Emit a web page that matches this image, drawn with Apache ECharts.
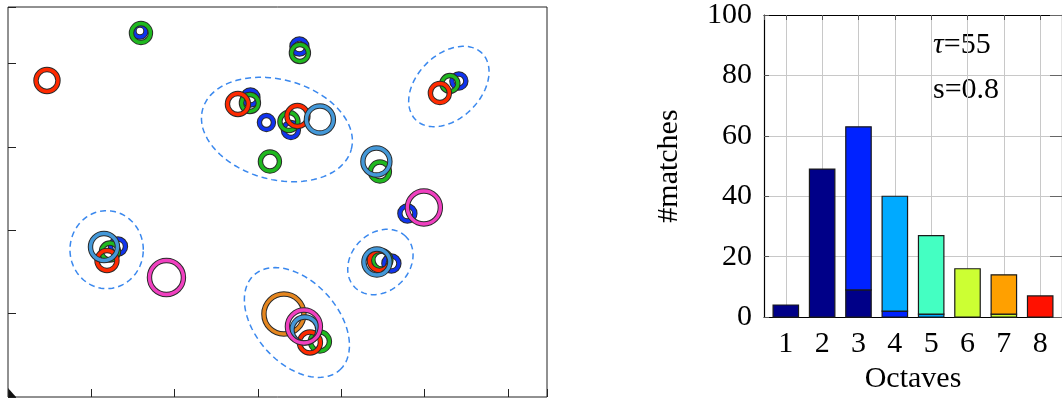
<!DOCTYPE html>
<html>
<head>
<meta charset="utf-8">
<style>
  html, body { margin: 0; padding: 0; background: #fff; }
  #chart { width: 1062px; height: 399px; }
</style>
<script src="https://cdn.jsdelivr.net/npm/echarts@6/dist/echarts.min.js"></script>
</head>
<body>
<div id="chart"></div>
<script>
// ---- keypoint rings: [x, y, radius] in image units ----
const blueRings = [
  [158.4, 439.2, 7.2], [349.8, 420.6, 9], [541.2, 379.2, 8.4],
  [291, 359.4, 9], [310.2, 329.4, 8.4], [339.6, 320.4, 9],
  [479.4, 220.2, 9], [460.2, 160.2, 9], [132, 180.6, 9]
];
const greenRings = [
  [159.6, 436.8, 11.4], [350.4, 412.8, 10.2], [530.4, 376.2, 9.6],
  [290.4, 352.8, 10.2], [337.2, 330.6, 10.8], [314.4, 282.6, 11.4],
  [446.4, 270.6, 11.4], [448.8, 164.4, 10.8], [122.4, 174.6, 10.2],
  [374.4, 66.6, 11.4]
];
const redRings = [
  [46.8, 379.8, 13.2], [518.4, 364.8, 11.4], [276, 351.6, 12.6],
  [347.4, 337.2, 12.6], [445.8, 163.8, 12], [118.8, 163.8, 12],
  [362.4, 65.4, 12.6]
];
const lightBlueRings = [
  [374.4, 333, 16.2], [442.2, 282.6, 16.2], [442.8, 162, 15.6],
  [115.2, 180, 16.2], [356.4, 80.4, 15.6]
];
const magentaRings = [
  [499.2, 227.4, 19.8], [190.2, 143.4, 20.4], [355.2, 84.6, 19.8]
];
const orangeRings = [
  [331.2, 99.6, 24]
];

// ---- cluster ellipses: [cx, cy, semiMajor, semiMinor, angleDeg] ----
const clusterEllipses = [
  [529.2, 372.6, 56.4, 38.4, 45],
  [322.8, 321, 92.4, 60, -15],
  [447, 162, 43.2, 34.8, 45],
  [118.4, 176.8, 44, 46.8, 0],
  [346.8, 89.4, 76.8, 49.2, -48]
];

// ---- histogram of matches per octave (stacked layers, bottom to top) ----
const octaves = [1, 2, 3, 4, 5, 6, 7, 8];
const navyCounts   = [4, 49, 9, 0, 0, 0, 0, 0];
const blueCounts   = [0, 0, 54, 2, 0, 0, 0, 0];
const azureCounts  = [0, 0, 0, 38, 1, 0, 0, 0];
const aquaCounts   = [0, 0, 0, 0, 26, 0, 0, 0];
const limeCounts   = [0, 0, 0, 0, 0, 16, 1, 0];
const orangeCounts = [0, 0, 0, 0, 0, 0, 13, 0];
const redCounts    = [0, 0, 0, 0, 0, 0, 0, 7];
const yTicks = [0, 20, 40, 60, 80, 100];

const SERIF = '"Liberation Serif", "DejaVu Serif", serif';
const BAR_HALF = 0.35;   // half bar width in octave units

function ringSeries(name, data, color) {
  return {
    type: 'custom',
    name: name,
    xAxisIndex: 0, yAxisIndex: 0,
    data: data,
    renderItem: function (params, api) {
      const c = api.coord([api.value(0), api.value(1)]);
      const r = api.size([api.value(2), 0])[0];
      return {
        type: 'group',
        children: [
          { type: 'circle', shape: { cx: c[0], cy: c[1], r: r },
            style: { fill: 'none', stroke: '#2a2a2a', lineWidth: 5.4 } },
          { type: 'circle', shape: { cx: c[0], cy: c[1], r: r },
            style: { fill: 'none', stroke: color, lineWidth: 3.4 } }
        ]
      };
    }
  };
}

const ellipseSeries = {
  type: 'custom',
  name: 'clusters',
  xAxisIndex: 0, yAxisIndex: 0,
  data: clusterEllipses,
  renderItem: function (params, api) {
    const cx = api.value(0), cy = api.value(1);
    const a = api.value(2), b = api.value(3);
    const th = api.value(4) * Math.PI / 180;
    const pts = [];
    for (let i = 0; i <= 120; i++) {
      const t = i / 120 * Math.PI * 2;
      const x = cx + a * Math.cos(t) * Math.cos(th) - b * Math.sin(t) * Math.sin(th);
      const y = cy + a * Math.cos(t) * Math.sin(th) + b * Math.sin(t) * Math.cos(th);
      pts.push(api.coord([x, y]));
    }
    return {
      type: 'polyline',
      shape: { points: pts },
      style: { fill: 'none', stroke: '#3a88ee', lineWidth: 1.5, lineDash: [6, 4] }
    };
  }
};

// Each layer sits on top of the running total of the layers below it.
const barLayers = [
  ['o1', navyCounts, '#000088'],
  ['o2', blueCounts, '#0022ff'],
  ['o3', azureCounts, '#00aaff'],
  ['o4', aquaCounts, '#44ffc2'],
  ['o5', limeCounts, '#ccff33'],
  ['o6', orangeCounts, '#ffa000'],
  ['o7', redCounts, '#ff1100']
];
const runningTotal = octaves.map(() => 0);
const barSeriesList = barLayers.map(([name, values, color]) => {
  const data = [];
  octaves.forEach((o, i) => {
    if (values[i] > 0) {
      data.push([o, runningTotal[i], runningTotal[i] + values[i]]);
      runningTotal[i] += values[i];
    }
  });
  return {
    type: 'custom',
    name: name,
    xAxisIndex: 1, yAxisIndex: 1,
    data: data,
    renderItem: function (params, api) {
      const x = api.value(0);
      const p0 = api.coord([x - BAR_HALF, api.value(1)]);
      const p1 = api.coord([x + BAR_HALF, api.value(2)]);
      return {
        type: 'rect',
        shape: { x: p0[0], y: p1[1], width: p1[0] - p0[0], height: p0[1] - p1[1] },
        style: { fill: color, stroke: '#1a1a1a', lineWidth: 1.2 }
      };
    }
  };
});

const chart = echarts.init(document.getElementById('chart'), null, { renderer: 'canvas' });

chart.setOption({
  animation: false,
  backgroundColor: '#ffffff',
  grid: [
    { left: 8, top: 7, width: 539, height: 390, show: true,
      borderColor: '#222', borderWidth: 1, backgroundColor: 'transparent' },
    { left: 764, top: 15, right: -5, bottom: 81 }
  ],
  xAxis: [
    { gridIndex: 0, type: 'value', min: 0, max: 647, interval: 100,
      axisLine: { show: false }, splitLine: { show: false },
      axisTick: { show: true, inside: true, length: 8, lineStyle: { color: '#222' } },
      axisLabel: { show: false } },
    { gridIndex: 1, type: 'value', min: 0.4, max: 8.6, splitNumber: 8,
      axisLine: { show: true, onZero: false, lineStyle: { color: '#000', width: 1.2 } },
      axisTick: { show: true, inside: true, length: 5, lineStyle: { color: '#555' } },
      splitLine: { show: true, lineStyle: { color: '#c8c8c8', width: 1 } },
      axisLabel: { show: true, showMinLabel: false, showMaxLabel: false, margin: 12,
        fontFamily: SERIF, fontSize: 30, color: '#000' },
      name: 'Octaves', nameLocation: 'middle', nameGap: 46,
      nameTextStyle: { fontFamily: SERIF, fontSize: 30, color: '#000' } },
    { gridIndex: 1, type: 'value', position: 'top', min: 0.4, max: 8.6, splitNumber: 8,
      axisLine: { show: true, onZero: false, lineStyle: { color: '#000', width: 1.2 } },
      axisTick: { show: true, inside: true, length: 5, lineStyle: { color: '#555' } },
      splitLine: { show: false }, axisLabel: { show: false } }
  ],
  yAxis: [
    { gridIndex: 0, type: 'value', min: 0, max: 468, interval: 100,
      axisLine: { show: false }, splitLine: { show: false },
      axisTick: { show: true, inside: true, length: 8, lineStyle: { color: '#222' } },
      axisLabel: { show: false } },
    { gridIndex: 1, type: 'value', min: yTicks[0], max: yTicks[yTicks.length - 1], interval: 20,
      axisLine: { show: true, lineStyle: { color: '#000', width: 1.2 } },
      axisTick: { show: true, inside: true, length: 5, lineStyle: { color: '#555' } },
      splitLine: { show: true, lineStyle: { color: '#c8c8c8', width: 1 } },
      axisLabel: { margin: 12, fontFamily: SERIF, fontSize: 30, color: '#000' },
      name: '#matches', nameLocation: 'middle', nameGap: 80, nameRotate: 90,
      nameTextStyle: { fontFamily: SERIF, fontSize: 30, color: '#000' } },
    { gridIndex: 1, type: 'value', position: 'right', min: 0, max: 100, interval: 20,
      axisLine: { show: true, lineStyle: { color: '#000', width: 1.2 } },
      axisTick: { show: true, inside: true, length: 12, lineStyle: { color: '#666' } },
      splitLine: { show: false }, axisLabel: { show: false } }
  ],
  graphic: [
    { type: 'polygon', shape: { points: [[8, 388], [8, 397], [16, 397]] },
      style: { fill: '#111' } },
    { type: 'text', left: 933, top: 30,
      style: { text: '{i|τ}=55', fontFamily: SERIF, fontSize: 30, fill: '#000',
        rich: { i: { fontFamily: SERIF, fontStyle: 'italic', fontSize: 30 } } } },
    { type: 'text', left: 933, top: 75,
      style: { text: 's=0.8', fontFamily: SERIF, fontSize: 30, fill: '#000' } }
  ],
  series: [
    ellipseSeries,
    ringSeries('orange', orangeRings, '#e5861f'),
    ringSeries('blue', blueRings, '#1034ee'),
    ringSeries('green', greenRings, '#1fb81f'),
    ringSeries('red', redRings, '#ff2a00'),
    ringSeries('lightblue', lightBlueRings, '#4498d8'),
    ringSeries('magenta', magentaRings, '#f040c0')
  ].concat(barSeriesList)
});
</script>
</body>
</html>
